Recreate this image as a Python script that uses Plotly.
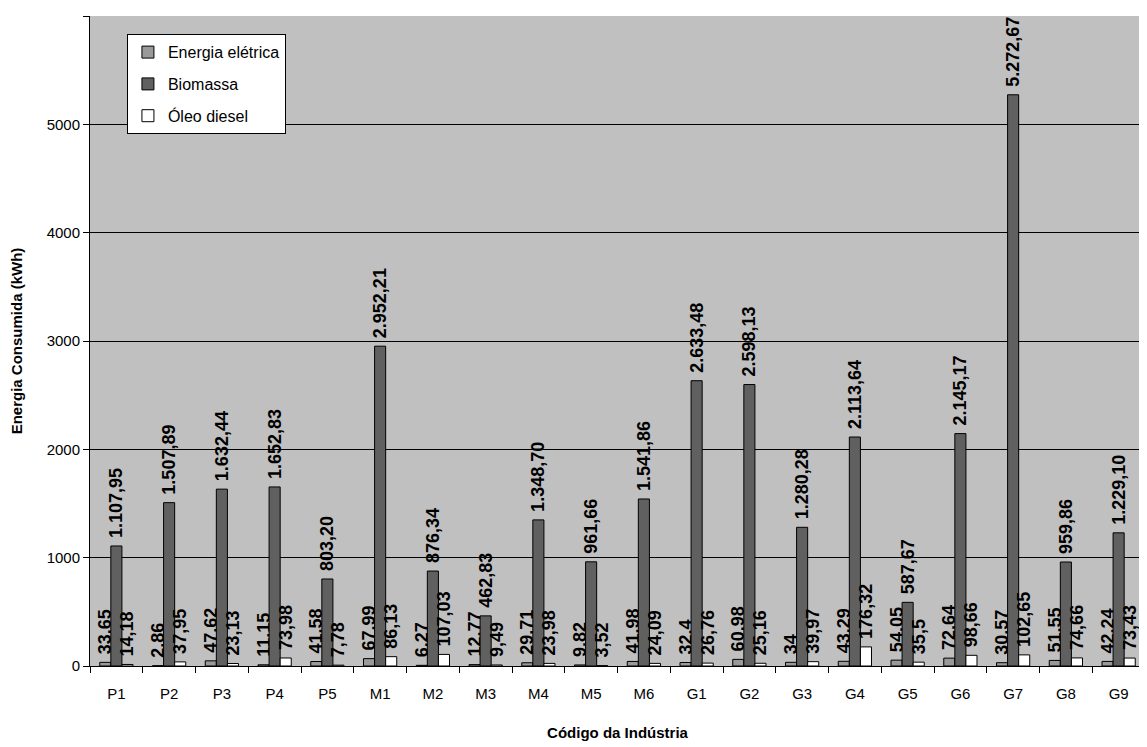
import plotly.graph_objects as go

categorias = ["P1", "P2", "P3", "P4", "P5", "M1", "M2", "M3", "M4", "M5", "M6",
              "G1", "G2", "G3", "G4", "G5", "G6", "G7", "G8", "G9"]
energia_eletrica = [33.65, 2.86, 47.62, 11.15, 41.58, 67.99, 6.27, 12.77, 29.71, 9.82, 41.98,
                    32.4, 60.98, 34, 43.29, 54.05, 72.64, 30.57, 51.55, 42.24]
biomassa = [1107.95, 1507.89, 1632.44, 1652.83, 803.20, 2952.21, 876.34, 462.83, 1348.70, 961.66,
            1541.86, 2633.48, 2598.13, 1280.28, 2113.64, 587.67, 2145.17, 5272.67, 959.86, 1229.10]
oleo_diesel = [14.18, 37.95, 23.13, 73.98, 7.78, 86.13, 107.03, 9.49, 23.98, 3.52, 24.09,
               26.76, 25.16, 39.97, 176.32, 35.5, 98.66, 102.65, 74.66, 73.43]
y_ticks = [0, 1000, 2000, 3000, 4000, 5000, 6000]


def fmt_fixed(v):
    s = f"{v:,.2f}"
    return s.replace(",", "X").replace(".", ",").replace("X", ".")


def fmt_general(v):
    return f"{v:g}".replace(".", ",")


FONT = "Liberation Sans, Arial, sans-serif"
label_font = dict(family=FONT, size=18, color="black")

series = [
    ("Energia elétrica", energia_eletrica, "#999999", [fmt_general(v) for v in energia_eletrica]),
    ("Biomassa", biomassa, "#606060", [fmt_fixed(v) for v in biomassa]),
    ("Óleo diesel", oleo_diesel, "#ffffff", [fmt_general(v) for v in oleo_diesel]),
]

fig = go.Figure()
for i, (name, vals, color, labels) in enumerate(series):
    fig.add_trace(go.Bar(
        name=name, x=categorias, y=vals,
        marker=dict(color=color, line=dict(color="black", width=1)),
        text=[f"<b>\u00a0{t}</b>" for t in labels], textposition="outside", textangle=-90,
        textfont=label_font, constraintext="none", cliponaxis=False,
        legendgroup=f"g{i}",
    ))

fig.update_layout(
    width=1147, height=747,
    margin=dict(l=82, r=10, t=8, b=89, autoexpand=False),
    paper_bgcolor="white", plot_bgcolor="#C0C0C0",
    barmode="group", bargap=0.37, bargroupgap=0,
    font=dict(family=FONT, size=14, color="black"),
    showlegend=True,
    legend=dict(x=0.035, y=0.972, xanchor="left", yanchor="top",
                bgcolor="white", bordercolor="black", borderwidth=1,
                font=dict(family=FONT, size=16, color="black"),
                tracegroupgap=8, itemwidth=30),
    xaxis=dict(
        title=dict(text="<b>Código da Indústria</b>", font=dict(family=FONT, size=15), standoff=26),
        automargin=False,
        showline=True, linecolor="black", linewidth=1, mirror=False,
        ticks="outside", tickson="boundaries", ticklen=6, tickcolor="black",
        ticklabelstandoff=14,
        tickfont=dict(family=FONT, size=15, color="black"),
        showgrid=False,
    ),
    yaxis=dict(
        title=dict(text="<b>Energia Consumida (kWh)</b>", font=dict(family=FONT, size=15), standoff=20),
        automargin=False,
        range=[0, 6000], tickvals=y_ticks, ticktext=[str(t) for t in y_ticks],
        showline=True, linecolor="black", linewidth=1,
        ticks="outside", ticklen=6, tickcolor="black",
        tickfont=dict(family=FONT, size=15, color="black"),
        showgrid=True, gridcolor="black", gridwidth=1, zeroline=False,
    ),
)

fig.write_html("out.html")
